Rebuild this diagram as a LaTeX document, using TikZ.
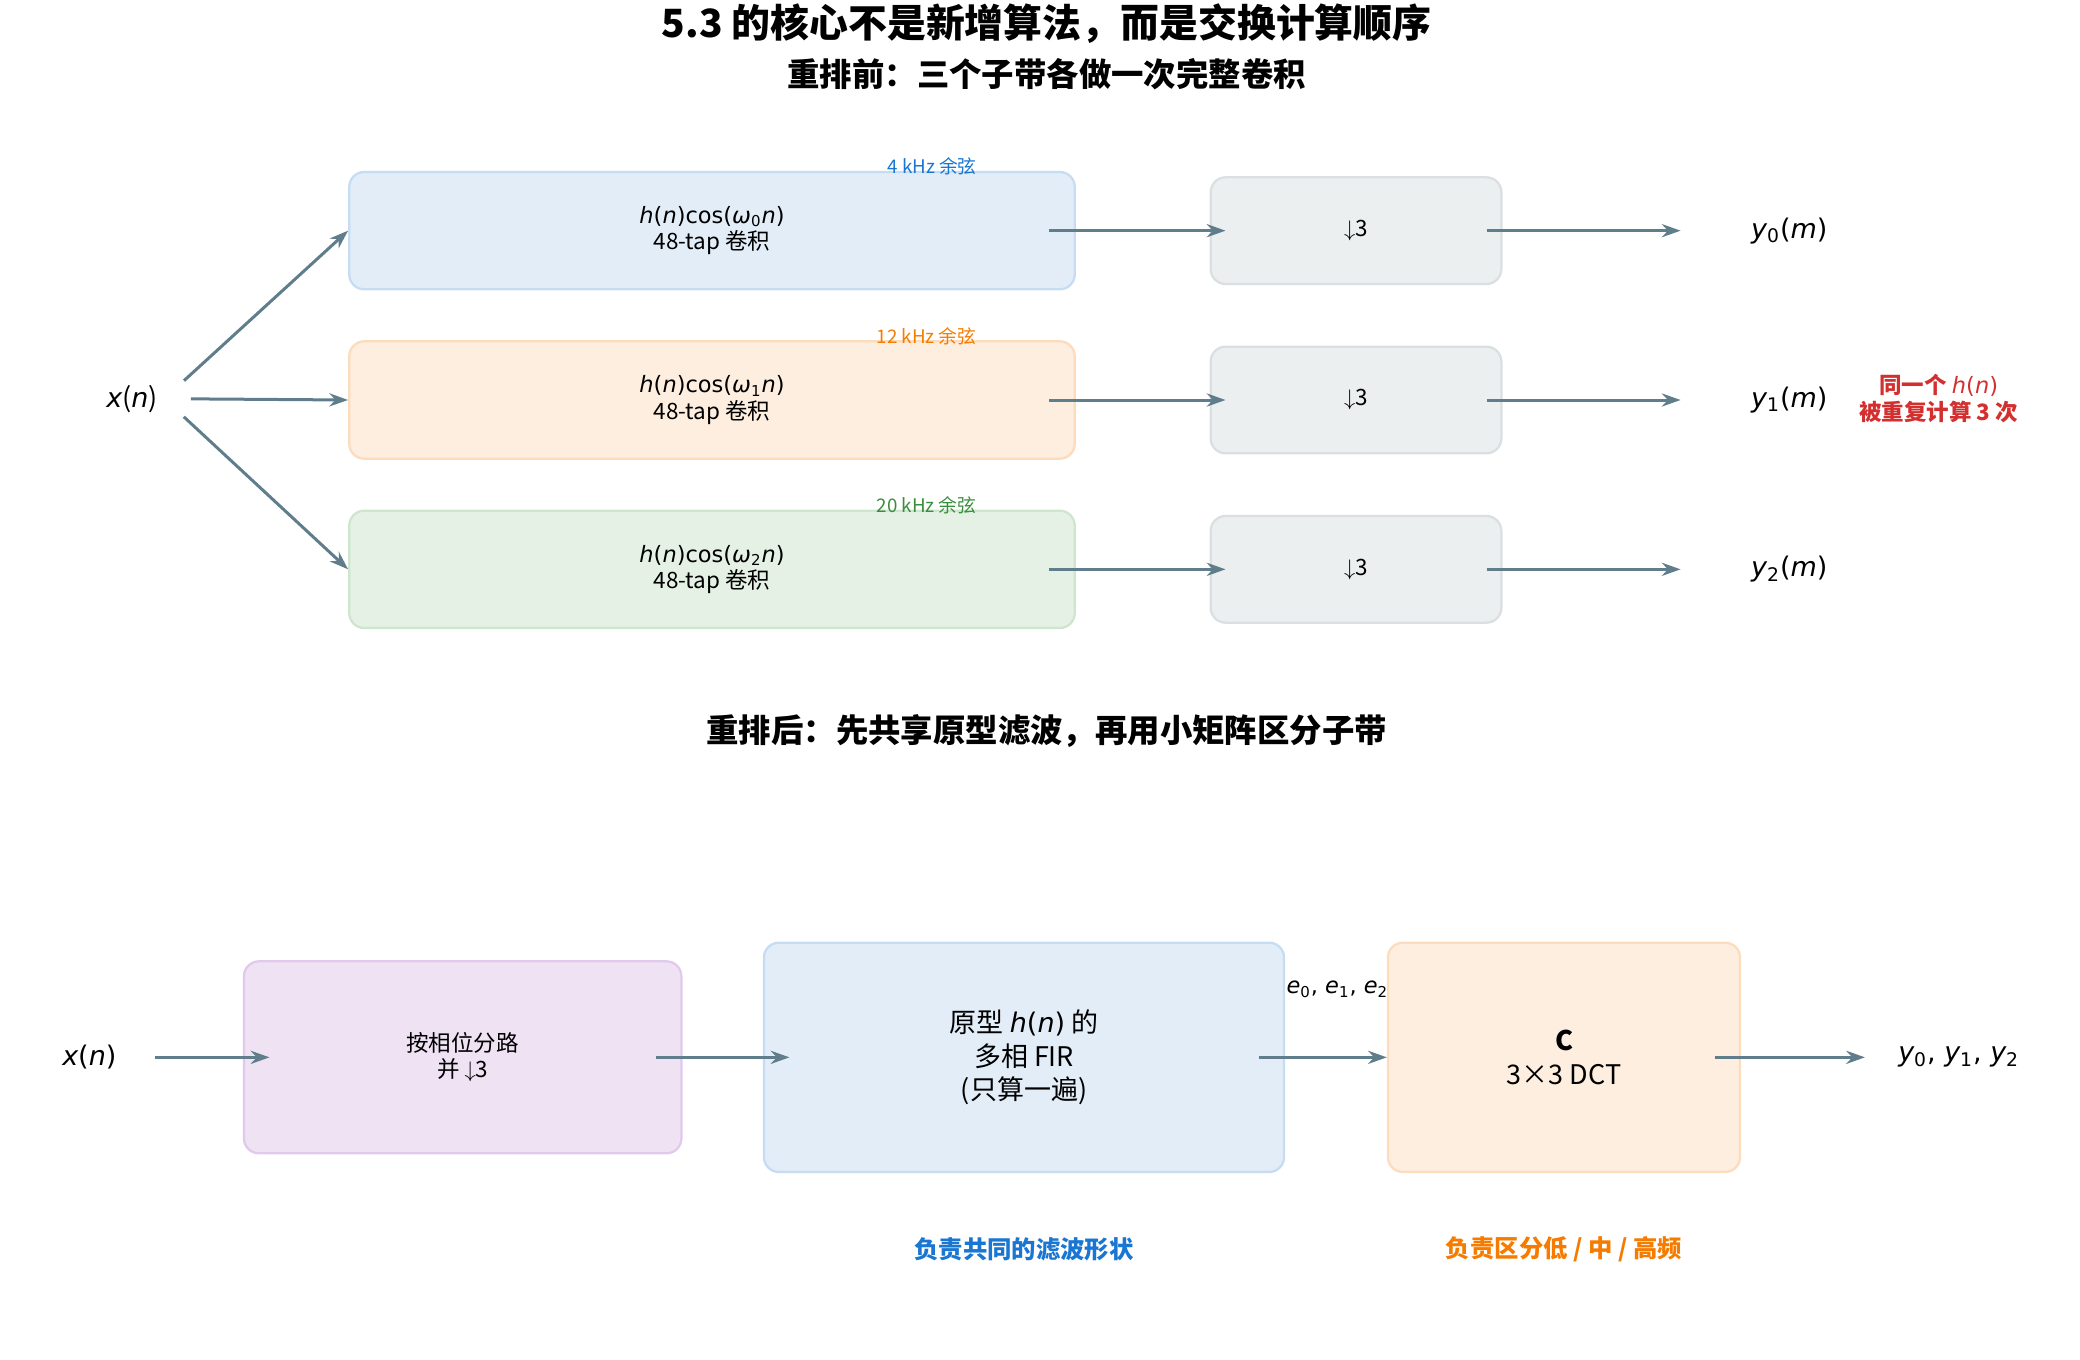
\documentclass[tikz,border=0pt]{standalone}
\usepackage{fontspec}
\setmainfont{Noto Sans CJK SC}
\newfontfamily\dv{DejaVu Sans}
\newcommand{\mv}[1]{{\dv\itshape #1}}
\newcommand{\sbx}[1]{\textsubscript{\dv #1}}
\usetikzlibrary{positioning,arrows.meta}
\definecolor{arr}{HTML}{607D8B}
\definecolor{bfill}{HTML}{E3EDF8}\definecolor{bline}{HTML}{C5DCF3}
\definecolor{ofill}{HTML}{FDEEDF}\definecolor{oline}{HTML}{FCDCBD}
\definecolor{gfill}{HTML}{E5F1E5}\definecolor{gline}{HTML}{CDE6CD}
\definecolor{dfill}{HTML}{EBEFF0}\definecolor{dline}{HTML}{DADFE2}
\definecolor{pfill}{HTML}{EEE2F3}\definecolor{pline}{HTML}{E0C9EC}
\definecolor{tblue}{HTML}{1976D2}\definecolor{torange}{HTML}{F57C00}
\definecolor{tgreen}{HTML}{388E3C}\definecolor{tred}{HTML}{D32F2F}
\tikzset{
  box/.style={rounded corners=8pt, line width=1.2pt, align=center, font=\large, inner sep=0pt},
  sub/.style={box, minimum width=13.6cm, minimum height=2.2cm},
  dn/.style={box, fill=dfill, draw=dline, minimum width=5.45cm, minimum height=2cm},
  flow/.style={-{Stealth[length=10pt,width=7pt]}, line width=1.6pt, draw=arr},
  lbl/.style={font=\Large},
  tag/.style={font=\normalsize},
}
\begin{document}
\begin{tikzpicture}[x=0.025cm,y=-0.025cm]
\useasboundingbox (0,0) rectangle (1560,1020);
\node[font=\huge\bfseries] (title) at (785,18) {5.3 的核心不是新增算法，而是交换计算顺序};
\node[font=\LARGE\bfseries] (sec1) at (785,56) {重排前：三个子带各做一次完整卷积};
% before
\node[lbl] (xa) at (99,299) {\mv{x}({\dv\itshape n})};
\node[sub, fill=bfill, draw=bline] (b0) at (534,173) {{\dv\mv{h}(\mv{n})cos(\mv{ω}\sbx{0}\mv{n})}\\48-tap 卷积};
\node[sub, fill=ofill, draw=oline] (b1) at (534,300) {{\dv\mv{h}(\mv{n})cos(\mv{ω}\sbx{1}\mv{n})}\\48-tap 卷积};
\node[sub, fill=gfill, draw=gline] (b2) at (534,427) {{\dv\mv{h}(\mv{n})cos(\mv{ω}\sbx{2}\mv{n})}\\48-tap 卷积};
\node[tag, text=tblue] (t0) at (699,125) {4 kHz 余弦};
\node[tag, text=torange] (t1) at (695,252) {12 kHz 余弦};
\node[tag, text=tgreen] (t2) at (695,379) {20 kHz 余弦};
\foreach \i/\y in {0/173,1/300,2/427}{
  \node[dn] (d\i) at (1017,\y) {$\downarrow$3};
  \node[lbl] (y\i) at (1342,\y) {{\dv\mv{y}\sbx{\i}(\mv{m})}};
  \draw[flow, shorten <=0.5cm] (xa.east) -- (b\i.west);
  \draw[flow, shorten <=-0.5cm, shorten >=-0.3cm] (b\i.east) -- (d\i.west);
  \draw[flow, shorten <=-0.3cm] (d\i.east) -- ([xshift=-1.2cm]y\i.west);
}
\node[font=\large\bfseries, text=tred, align=center] (rep) at (1454,299) {同一个 {\dv\mdseries\mv{h}(\mv{n})}\\被重复计算 3 次};
% after
\node[font=\LARGE\bfseries] (sec2) at (785,548) {重排后：先共享原型滤波，再用小矩阵区分子带};
\node[lbl] (xb) at (67,793) {{\dv\mv{x}(\mv{n})}};
\node[box, fill=pfill, draw=pline, minimum width=8.2cm, minimum height=3.6cm] (ph) at (347,793) {按相位分路\\并 $\downarrow$3};
\node[box, fill=bfill, draw=bline, minimum width=9.75cm, minimum height=4.3cm, font=\Large] (fir) at (768,793) {原型 {\dv\mv{h}(\mv{n})} 的\\多相 FIR\\(只算一遍)};
\node[box, fill=ofill, draw=oline, minimum width=6.6cm, minimum height=4.3cm, font=\Large] (dct) at (1173,793) {\textbf{C}\\3×3 DCT};
\node[lbl] (yb) at (1469,793) {{\dv\mv{y}\sbx{0}, \mv{y}\sbx{1}, \mv{y}\sbx{2}}};
\node[font=\large] (e) at (1003,742) {{\dv\mv{e}\sbx{0}, \mv{e}\sbx{1}, \mv{e}\sbx{2}}};
\draw[flow, shorten <=0.6cm, shorten >=-0.5cm] (xb.east) -- (ph.west);
\draw[flow, shorten <=-0.5cm, shorten >=-0.5cm] (ph.east) -- (fir.west);
\draw[flow, shorten <=-0.5cm] (fir.east) -- (dct.west);
\draw[flow, shorten <=-0.5cm, shorten >=0.5cm] (dct.east) -- (yb.west);
\node[font=\fontsize{13}{15}\selectfont\bfseries, text=tblue] (n1) at (768,937) {负责共同的滤波形状};
\node[font=\fontsize{13}{15}\selectfont\bfseries, text=torange] (n2) at (1173,937) {负责区分低 / 中 / 高频};
\end{tikzpicture}
\end{document}
